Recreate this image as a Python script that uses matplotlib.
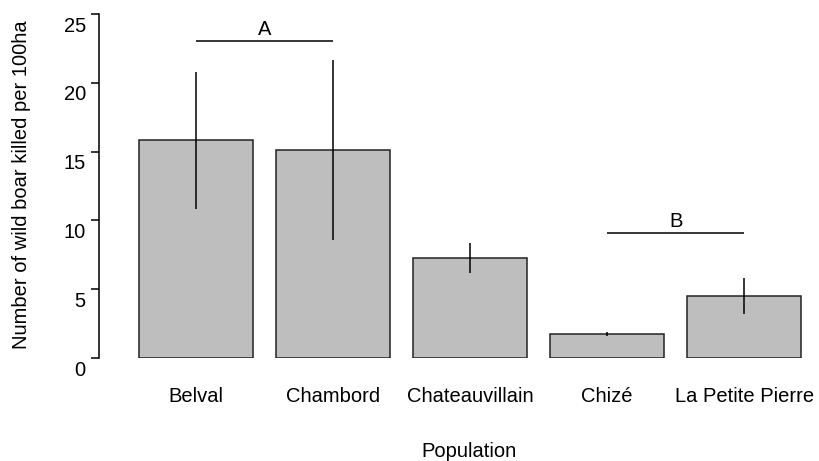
import matplotlib
matplotlib.use("Agg")
import matplotlib.pyplot as plt
from matplotlib.transforms import ScaledTranslation

# values
populations = ["Belval", "Chambord", "Chateauvillain", "Chizé", "La Petite Pierre"]
means = [15.85, 15.1, 7.27, 1.74, 4.5]
err_low = [10.8, 8.6, 6.18, 1.62, 3.2]
err_high = [20.8, 21.65, 8.36, 1.86, 5.8]
groups = [("A", 0, 1, 23.05), ("B", 3, 4, 9.1)]

plt.rcParams["font.family"] = ["Liberation Sans", "DejaVu Sans"]
FS = 14.5

W, H = 819, 461
fig = plt.figure(figsize=(W / 100, H / 100), dpi=100)
# axes placed in pixels: y-axis at x=99, y=0 at 358, y=25 at 14
left, right, bottom, top = 99, 819, 358, 14
ax = fig.add_axes([left / W, 1 - bottom / H, (right - left) / W, (bottom - top) / H])

# R barplot geometry: width 1, space 0.2 -> centers 0.7, 1.9, ...
x = [0.7 + 1.2 * i for i in range(len(populations))]
px0, pxu = 116, 114.2
ax.set_xlim((left - px0) / pxu, (right - px0) / pxu)
ax.set_ylim(0, 25)

ax.bar(x, means, width=1.0, color="#bebebe", edgecolor="#222222", linewidth=1.1, zorder=2)
ax.vlines(x, err_low, err_high, color="black", linewidth=1.1, zorder=3)

for lab, i, j, y in groups:
    ax.plot([x[i], x[j]], [y, y], color="black", linewidth=1.1, solid_capstyle="butt")
    ax.text((x[i] + x[j]) / 2, y + 0.15, lab, ha="center", va="bottom", fontsize=FS)

for s in ("top", "right", "bottom"):
    ax.spines[s].set_visible(False)
ax.spines["left"].set_bounds(0, 25)
ax.spines["left"].set_linewidth(1.1)

ax.set_yticks([0, 5, 10, 15, 20, 25])
ax.tick_params(axis="y", length=5.5, width=1.1, pad=4, labelsize=FS)
for t in ax.get_yticklabels():
    t.set_transform(t.get_transform() + ScaledTranslation(0, -0.1, fig.dpi_scale_trans))

ax.set_xticks(x)
ax.set_xticklabels(populations)
ax.tick_params(axis="x", length=0, pad=21, labelsize=FS)

fig.text(469 / W, 1 - 451 / H, "Population", ha="center", va="center", fontsize=FS)
fig.text(22 / W, 1 - 185 / H, "Number of wild boar killed per 100ha", ha="center", va="center",
         rotation=90, fontsize=FS)

fig.savefig("out.png", dpi=100)
